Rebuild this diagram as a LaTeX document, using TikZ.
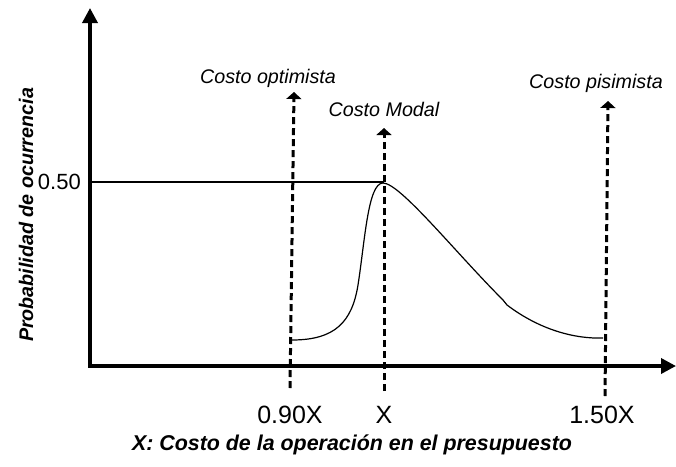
\documentclass[tikz,border=0pt]{standalone}
\usepackage{fontspec}
\setmainfont{Liberation Sans}
\usetikzlibrary{arrows.meta}
\tikzset{
  axis/.style={line width=3.5pt, -{Triangle[length=15pt,width=15pt]}},
  marker/.style={line width=3pt, dash pattern=on 7pt off 4pt, -{Triangle[length=7pt,width=15pt]}},
  thin line/.style={line width=1.2pt},
  toplabel/.style={anchor=base, font=\fontsize{19.7}{23}\selectfont\itshape, inner sep=0pt},
  ticklabel/.style={anchor=base, font=\fontsize{25}{29}\selectfont, inner sep=0pt},
}
\begin{document}
\begin{tikzpicture}[x=1pt,y=-1pt]
\useasboundingbox (0,0) rectangle (676,466);
% axes
\coordinate (yb) at (90,367);
\coordinate (yt) at (90,8);
\coordinate (xl) at (88,366);
\coordinate (xr) at (676,366);
\draw[axis] (yb) -- (yt);
\draw[axis] (xl) -- (xr);
% 0.50 level
\coordinate (h0) at (91,182);
\coordinate (h1) at (384,182);
\draw[thin line] (h0) -- (h1);
\node[anchor=east, font=\fontsize{22}{26}\selectfont, inner sep=0pt] (p50) at (81,182) {0.50};
% dashed markers
\coordinate (ob) at (290,388);
\coordinate (ot) at (294,92);
\coordinate (mb) at (384,391);
\coordinate (mt) at (384,128);
\coordinate (pb) at (605,396);
\coordinate (pt) at (608,101);
\draw[marker] (ob) -- (ot);
\draw[marker] (mb) -- (mt);
\draw[marker] (pb) -- (pt);
% curve
\draw[thin line] (292,340) .. controls (335,340) and (352,322) .. (358,285)
  .. controls (365,240) and (368,183) .. (383,183)
  .. controls (400,183) and (455,252) .. (503,300)
  -- (507,305) .. controls (540,330) and (575,339) .. (603,338);
% top labels
\node[toplabel] (lopt) at (268,83) {Costo optimista};
\node[toplabel] (lmod) at (384,116) {Costo Modal};
\node[toplabel] (lpis) at (596,88) {Costo pisimista};
% tick labels
\node[ticklabel] (t090) at (290,423) {0.90X};
\node[ticklabel] (tx) at (384,423) {X};
\node[ticklabel] (t150) at (602,423) {1.50X};
% axis titles
\node[anchor=base, font=\fontsize{21.4}{25}\selectfont\bfseries\itshape, inner sep=0pt] (xt) at (352,450) {X: Costo de la operación en el presupuesto};
\node[anchor=base, rotate=90, font=\fontsize{19.7}{23}\selectfont\bfseries\itshape, inner sep=0pt] (yl) at (33,215) {Probabilidad de ocurrencia};
\end{tikzpicture}
\end{document}
